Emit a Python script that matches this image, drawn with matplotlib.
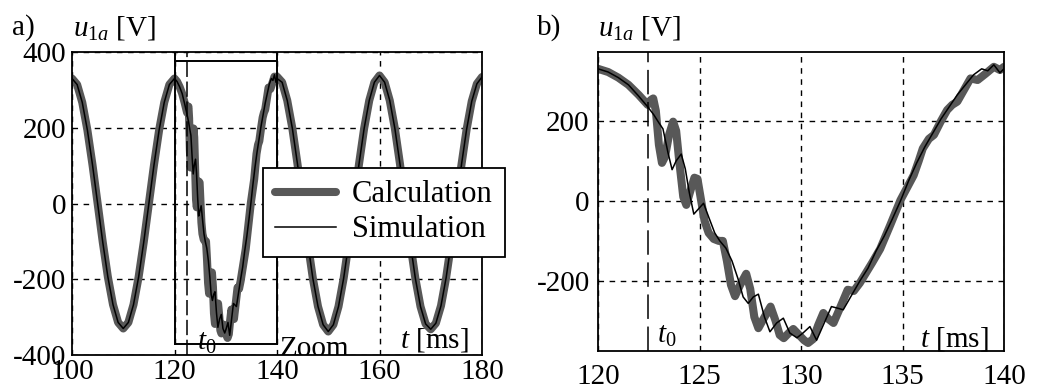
import numpy as np
import matplotlib
matplotlib.use("Agg")
import matplotlib.pyplot as plt

plt.rcParams['font.family'] = ['Liberation Serif', 'DejaVu Serif']
plt.rcParams['mathtext.fontset'] = 'custom'
plt.rcParams['mathtext.rm'] = 'Liberation Serif'
plt.rcParams['mathtext.it'] = 'Liberation Serif:italic'
plt.rcParams['axes.unicode_minus'] = False

# steady-state part before the zoom window (t = 100 .. 119 ms)
t_pre = np.arange(100, 120, 1.0)
u_pre = [330, 314, 267, 194, 102, 0, -102, -194, -267, -314,
         -330, -314, -267, -194, -102, 0, 102, 194, 267, 314]

# steady-state part after the zoom window (t = 141 .. 180 ms)
t_post = np.arange(141, 181, 1.0)
u_post = [320, 272, 198, 104, 0, -104, -198, -272, -320, -338,
          -320, -272, -198, -104, 0, 104, 198, 272, 320, 338,
          320, 272, 198, 104, 0, -104, -198, -272, -318, -332,
          -316, -270, -196, -103, 0, 103, 196, 270, 316, 334]

# zoom window 120 .. 140 ms, calculation
t_calc_zoom = [120.0, 120.5, 121.0, 121.5, 122.0, 122.45, 122.6, 122.72, 122.85, 123.0,
               123.15, 123.3, 123.5, 123.7, 123.85, 124.0, 124.2, 124.35, 124.55, 124.75,
               124.9, 125.05, 125.25, 125.45, 125.7, 125.95, 126.15, 126.35, 126.55, 126.75,
               127.0, 127.3, 127.5, 127.7, 127.9, 128.15, 128.5, 128.75, 128.95, 129.15,
               129.4, 129.62, 129.9, 130.15, 130.35, 130.6, 130.85, 131.1, 131.35, 131.6,
               131.9, 132.3, 132.6, 132.9, 133.2, 133.5, 133.9, 134.4, 134.9, 135.3,
               135.55, 135.8, 136.0, 136.3, 136.55, 136.9, 137.2, 137.45, 137.7, 138.0,
               138.35, 138.7, 139.1, 139.5, 139.8, 140.0]
u_calc_zoom = [330, 322, 308, 290, 265, 240, 252, 256, 225, 140,
               95, 110, 165, 198, 175, 100, 10, -10, 25, 58,
               55, 10, -50, -80, -95, -100, -100, -150, -210, -238,
               -210, -182, -220, -290, -318, -295, -264, -300, -335, -343,
               -330, -320, -335, -348, -355, -345, -310, -280, -295, -305,
               -270, -222, -225, -205, -180, -155, -120, -60, 2, 40,
               64, 100, 131, 155, 165, 200, 227, 240, 248, 275,
               306, 302, 318, 335, 327, 335]

# zoom window 120 .. 140 ms, simulation
t_sim_zoom = [120.0, 120.5, 121.0, 121.5, 122.0, 122.45, 122.75, 123.0, 123.2, 123.45,
              123.65, 123.85, 124.1, 124.3, 124.5, 124.72, 124.95, 125.2, 125.45, 125.75,
              126.0, 126.3, 126.6, 126.9, 127.15, 127.4, 127.65, 127.9, 128.2, 128.47,
              128.8, 129.13, 129.45, 129.8, 130.1, 130.44, 130.77, 131.1, 131.5, 131.8,
              132.08, 132.5, 132.9, 133.3, 133.7, 134.1, 134.5, 134.9, 135.3, 135.7,
              136.1, 136.5, 136.9, 137.3, 137.7, 138.1, 138.5, 138.9, 139.2, 139.5,
              139.8, 140.0]
u_sim_zoom = [330, 322, 308, 290, 262, 235, 215, 195, 180, 120,
              78, 100, 117, 80, 20, -33, -20, -6, -40, -80,
              -100, -118, -150, -195, -240, -256, -240, -233, -290, -327,
              -305, -293, -330, -342, -330, -314, -348, -310, -264, -268,
              -272, -235, -200, -168, -125, -88, -45, 0, 50, 95,
              135, 170, 205, 235, 265, 290, 315, 330, 325, 340,
              320, 330]

t0 = 122.45

t_calc = np.concatenate([t_pre, t_calc_zoom, t_post])
u_calc = np.concatenate([u_pre, u_calc_zoom, u_post])
t_sim = np.concatenate([t_pre, t_sim_zoom, t_post])
u_sim = np.concatenate([u_pre, u_sim_zoom, u_post])

W, H = 1043, 390
fig = plt.figure(figsize=(W / 100, H / 100), dpi=100)
ax1 = fig.add_axes([72 / W, 1 - 355 / H, 410 / W, 303 / H])
ax2 = fig.add_axes([598 / W, 1 - 351 / H, 406 / W, 299 / H])

calc_style = dict(color='#585858', lw=5.8, solid_capstyle='round', solid_joinstyle='round')
sim_style = dict(color='black', lw=1.1)
grid_style = dict(color='black', lw=1.0, linestyle=(0, (4, 4)))
fs = 21

for ax in (ax1, ax2):
    ax.plot(t_calc, u_calc, label='Calculation', **calc_style)
    ax.plot(t_sim, u_sim, label='Simulation', **sim_style)
    ax.grid(True, **grid_style)
    ax.tick_params(length=0, labelsize=fs)
    for s in ax.spines.values():
        s.set_linewidth(1.3)

# panel a
ax1.set_xlim(100, 180)
ax1.set_ylim(-400, 400)
ax1.set_xticks([100, 120, 140, 160, 180])
ax1.set_yticks([-400, -200, 0, 200, 400])
ax1.tick_params(axis='x', pad=3)
ax1.tick_params(axis='y', pad=4)
ax1.axvline(t0, color='black', lw=1.1, linestyle=(0, (10, 3)))
box = dict(color='black', lw=1.4)
ax1.plot([120, 120], [-370, 400], **box)
ax1.plot([140, 140], [-370, 400], **box)
ax1.plot([120, 140], [375, 375], **box)
ax1.plot([120, 140], [-370, -370], **box)
ax1.text(124.3, -387, r'$t_0$', fontsize=fs)
ax1.text(140.6, -402, 'Zoom', fontsize=fs, clip_on=True)
ax1.text(164.0, -381, r'$t$ [ms]', fontsize=fs)

ax1.legend(loc='upper left', bbox_to_anchor=(263 / W, 1 - 168 / H),
           bbox_transform=fig.transFigure, fontsize=fs + 1, frameon=True,
           fancybox=False, framealpha=1, edgecolor='black', borderpad=0.4,
           borderaxespad=0, handlelength=2.0, handletextpad=0.5, labelspacing=0.2)
ax1.get_legend().get_frame().set_linewidth(1.3)

# panel b
ax2.set_xlim(120, 140)
ax2.set_ylim(-375, 372)
ax2.set_xticks([120, 125, 130, 135, 140])
ax2.set_yticks([-200, 0, 200])
ax2.tick_params(axis='x', pad=9)
ax2.tick_params(axis='y', pad=6)
ax2.axvline(t0, color='black', lw=1.1, linestyle=(0, (16, 5)))
ax2.text(122.9, -355, r'$t_0$', fontsize=fs)
ax2.text(135.86, -365, r'$t$ [ms]', fontsize=fs)

fig.text(12 / W, 1 - 35 / H, 'a)', fontsize=fs)
fig.text(73 / W, 1 - 35 / H, r'$u_{1a}$ [V]', fontsize=fs)
fig.text(537 / W, 1 - 35 / H, 'b)', fontsize=fs)
fig.text(598 / W, 1 - 35 / H, r'$u_{1a}$ [V]', fontsize=fs)

fig.savefig('out.png', dpi=100)
